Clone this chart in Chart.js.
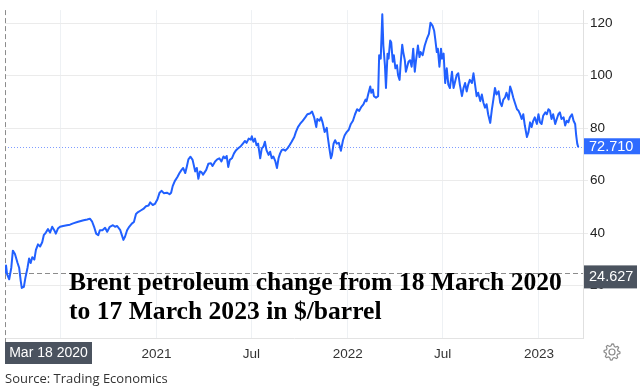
<!DOCTYPE html>
<html>
<head>
<meta charset="utf-8">
<script src="https://cdn.jsdelivr.net/npm/chart.js@4.4.1/dist/chart.umd.min.js"></script>
<style>
  html, body { margin: 0; padding: 0; background: #fff; }
  #wrap { position: relative; width: 640px; height: 390px; overflow: hidden; }
  #title {
    position: absolute; left: 69px; top: 268px;
    font: bold 25.6px "Liberation Serif", "Times New Roman", serif;
    line-height: 28.5px; color: #000; white-space: nowrap;
  }
  #source {
    position: absolute; left: 5px; top: 369px;
    font: 13px "Open Sans", sans-serif; color: #333;
  }
</style>
</head>
<body>
<div id="wrap">
  <canvas id="myChart" width="640" height="390"></canvas>
  <div id="title">Brent petroleum change from 18 March 2020<br>to 17 March 2023 in $/barrel</div>
  <div id="source">Source: Trading Economics</div>
</div>
<script>
// days counted from 18 March 2020
const days = [
    0, 2, 4, 8, 12, 15, 19, 24, 27, 30, 32, 36, 39, 43, 46, 49, 52, 56, 59, 63, 67, 71, 74, 78, 82, 86, 90, 94, 97, 101, 105,
    111, 118, 124, 130, 138, 143, 150, 157, 162, 166, 170, 174, 178, 181,
    186, 191, 195, 200, 206, 210, 214, 220, 223, 226, 229, 233, 237, 242, 246, 250, 254, 259, 264, 269, 274, 277,
    282, 286, 291, 295, 299, 303, 309, 314, 317, 320, 324, 329, 333, 337, 340, 344, 347, 350, 354, 358, 363, 366, 369, 372,
    375, 378, 384, 388, 393, 396, 401, 405, 409, 413, 417, 420, 423, 426, 429, 433, 437, 441, 445, 450, 454, 458, 461, 465, 469, 471,
    474, 477, 480, 483, 487, 490, 493, 496, 499, 503, 506, 509, 512, 516, 519, 522, 525, 528, 531, 535, 539, 543, 547, 552, 555, 559, 563,
    568, 573, 577, 582, 586, 590, 594, 596, 600, 603, 606, 610, 614, 616, 619, 622, 624, 627, 630, 633, 637, 641, 645, 648, 652, 656, 660, 664, 668, 672,
    676, 680, 684, 688, 690, 693, 697, 699, 702, 704, 708, 712, 714, 717, 720, 722, 725, 727, 730, 732, 735, 737, 740, 742, 745, 748, 750, 753, 755, 758, 760, 763, 765,
    770, 773, 776, 779, 782, 784, 788, 791, 793, 797, 801, 805, 809, 812, 816, 819, 821, 824, 826, 829, 832, 834, 837, 840, 843, 846, 849, 853, 856, 859, 862, 865,
    868, 872, 875, 878, 881, 884, 887, 891, 894, 897, 900, 903, 907, 910, 913, 916, 919, 922, 926, 929, 932, 935, 938, 942, 945, 948, 951, 954, 957, 961,
    964, 967, 970, 973, 977, 980, 983, 986, 989, 992, 996, 999, 1002, 1005, 1008, 1011, 1015, 1018, 1021, 1024, 1027, 1031, 1034, 1037, 1040, 1043, 1046, 1050, 1053, 1056, 1059,
    1062, 1066, 1069, 1072, 1075, 1078, 1082, 1085, 1088, 1090, 1092, 1094
];

const prices = [
    24.627, 27.6, 24.3, 22.4, 26.8, 33.3, 32.0, 28.6, 26.8, 21.8, 19.1, 19.5, 23.0, 26.8, 30.3, 28.6, 30.8, 29.9, 33.6, 35.7, 34.9, 36.5, 39.2, 40.2, 41.5, 40.2, 42.4, 41.1, 39.8, 41.7, 42.4,
    42.7, 43.0, 43.2, 43.7, 44.2, 44.5, 44.9, 45.2, 45.5, 44.5, 42.4, 39.8, 39.2, 41.1,
    41.1, 42.0, 40.5, 42.4, 43.0, 42.4, 42.7, 41.1, 39.2, 37.4, 38.6, 41.1, 42.4, 43.6, 44.2, 47.3, 48.0, 48.6, 49.2, 50.2, 50.5, 51.7,
    50.7, 51.1, 52.9, 55.4, 56.1, 55.2, 55.4, 54.8, 55.4, 57.9, 59.8, 61.4, 62.9, 64.1, 64.8, 62.9, 65.4, 68.1, 69.1, 67.9, 63.5, 64.8, 60.7, 63.5,
    63.2, 62.3, 64.1, 66.4, 66.6, 65.6, 67.3, 68.1, 68.5, 67.3, 69.2, 68.5, 69.4, 65.2, 67.9, 68.5, 70.4, 71.6, 72.3, 73.1, 74.1, 75.1, 74.4, 76.0, 75.6, 76.9,
    74.8, 76.0, 73.5, 74.1, 68.5, 72.3, 72.9, 74.8, 71.6, 69.8, 71.0, 68.5, 69.2, 67.3, 64.8, 68.5, 70.4, 71.6, 71.9, 71.4, 72.3, 73.5, 74.8, 76.6, 78.5, 80.4, 81.6,
    82.8, 84.1, 85.3, 85.6, 86.3, 84.1, 80.4, 83.5, 82.8, 84.1, 82.2, 78.5, 80.1, 76.6, 72.3, 68.5, 69.8, 74.1, 75.4, 74.1, 74.4, 71.4, 75.4, 77.2, 78.5, 79.4, 81.6, 82.8, 85.3, 87.2,
    86.6, 88.1, 89.1, 90.9, 90.3, 92.8, 95.9, 93.5, 94.7, 92.2, 91.6, 92.2, 107.8, 106.5, 123.4, 111.5, 104.0, 95.3, 108.4, 106.5, 113.4, 112.7, 105.3, 107.8, 102.8, 104.0, 100.3, 98.4, 104.7, 111.8, 109.0, 105.9, 101.5,
    105.3, 105.9, 103.4, 110.3, 101.5, 105.3, 111.5, 107.1, 109.0, 107.8, 111.5, 114.0, 115.9, 120.2, 119.0, 117.1, 114.0, 109.0, 110.3, 103.4, 110.3, 106.5, 108.4, 97.2, 102.8, 96.6, 95.3, 101.5, 95.3, 97.8, 100.3, 100.9,
    96.6, 92.2, 95.3, 97.2, 94.0, 96.6, 98.4, 97.2, 100.9, 96.6, 92.2, 93.5, 90.3, 92.8, 89.7, 87.8, 89.1, 85.3, 82.0, 87.0, 91.0, 95.3, 92.8, 94.0, 89.7, 88.4, 90.9, 91.6, 93.5, 90.9,
    95.9, 94.0, 91.6, 89.7, 87.2, 86.6, 85.3, 83.5, 85.3, 81.0, 76.6, 78.5, 82.2, 80.4, 82.8, 84.1, 81.6, 85.3, 82.2, 81.6, 84.7, 86.0, 85.3, 87.2, 86.6, 83.5, 85.3, 81.6, 83.5, 85.3, 86.0,
    83.5, 84.1, 81.0, 82.8, 82.2, 84.1, 85.3, 82.8, 81.6, 77.2, 74.1, 72.71
];

// x ticks: Jul 2020, 2021, Jul, 2022, Jul, 2023 (Jul 2020 sits under the date marker)
const xTickDays = [105, 289, 470, 654, 835, 1019];
const xTickLabels = ['', '2021', 'Jul', '2022', 'Jul', '2023'];
const yTickValues = [20, 40, 60, 80, 100, 120];
const startLabel = 'Mar 18 2020';

const points = days.map((d, i) => ({ x: d, y: prices[i] }));
const firstValue = prices[0];
const lastValue = prices[prices.length - 1];

const markers = {
    id: 'markers',
    beforeDatasetsDraw(chart) {
        const { ctx, chartArea: a, scales: { x, y } } = chart;
        ctx.save();
        // last value dotted line
        ctx.strokeStyle = '#7f9dff';
        ctx.lineWidth = 1;
        ctx.setLineDash([1, 2]);
        let yy = Math.round(y.getPixelForValue(lastValue)) + 0.5;
        ctx.beginPath(); ctx.moveTo(a.left, yy); ctx.lineTo(a.right, yy); ctx.stroke();
        // crosshair on first point
        ctx.strokeStyle = '#8c8c8c';
        ctx.setLineDash([5, 3]);
        yy = Math.round(y.getPixelForValue(firstValue)) + 0.5;
        ctx.beginPath(); ctx.moveTo(a.left, yy); ctx.lineTo(a.right, yy); ctx.stroke();
        const xx = Math.round(x.getPixelForValue(0)) + 0.5;
        ctx.beginPath(); ctx.moveTo(xx, a.top); ctx.lineTo(xx, a.bottom + 4); ctx.stroke();
        ctx.restore();
    },
    afterDraw(chart) {
        const { ctx, chartArea: a, scales: { x, y } } = chart;
        ctx.save();
        ctx.textBaseline = 'middle';

        // date marker
        const x0 = x.getPixelForValue(0);
        ctx.font = '14px "Liberation Sans", Arial, sans-serif';
        ctx.fillStyle = '#4b535f';
        ctx.fillRect(x0, a.bottom + 4, 87, 22);
        ctx.fillStyle = '#fff';
        ctx.textAlign = 'center';
        ctx.fillText(startLabel, x0 + 43.5, a.bottom + 15.5);

        // last value box
        ctx.font = '14.5px "Liberation Sans", Arial, sans-serif';
        ctx.textAlign = 'left';
        let yy = y.getPixelForValue(lastValue);
        ctx.fillStyle = '#2f6bff';
        ctx.fillRect(a.right + 1, yy - 9, 56, 16);
        ctx.fillStyle = '#fff';
        ctx.fillText(lastValue.toFixed(3), a.right + 6, yy - 0.5);

        // first value box
        yy = y.getPixelForValue(firstValue);
        ctx.fillStyle = '#4b535f';
        ctx.fillRect(a.right + 1, yy - 8, 53, 23);
        ctx.fillStyle = '#fff';
        ctx.fillText(firstValue.toFixed(3), a.right + 6, yy + 3.5);

        // settings gear
        const gx = 612, gy = 352;
        ctx.strokeStyle = '#8a8a8a';
        ctx.lineWidth = 1.2;
        ctx.beginPath();
        for (let i = 0; i < 32; i++) {
            const ang = i / 32 * Math.PI * 2;
            const r = (i % 4 < 2) ? 8 : 6;
            const px = gx + r * Math.cos(ang), py = gy + r * Math.sin(ang);
            if (i === 0) ctx.moveTo(px, py); else ctx.lineTo(px, py);
        }
        ctx.closePath();
        ctx.stroke();
        ctx.beginPath(); ctx.arc(gx, gy, 3, 0, Math.PI * 2); ctx.stroke();
        ctx.restore();
    }
};

document.addEventListener('DOMContentLoaded', () => {
    new Chart('myChart', {
        type: 'line',
        data: {
            datasets: [{
                data: points,
                borderColor: '#2160ff',
                borderWidth: 2,
                pointRadius: 0,
                tension: 0,
                fill: false,
                borderJoinStyle: 'round'
            }]
        },
        options: {
            responsive: false,
            animation: false,
            layout: { padding: { left: 5, top: 5, right: 0, bottom: 25 } },
            plugins: {
                legend: { display: false },
                tooltip: { enabled: false }
            },
            scales: {
                x: {
                    type: 'linear',
                    position: 'bottom',
                    min: 0,
                    max: 1103,
                    afterBuildTicks: (axis) => { axis.ticks = xTickDays.map(v => ({ value: v })); },
                    afterFit: (axis) => { axis.height = 27; },
                    grid: { color: '#eef1f4', drawTicks: false },
                    border: { color: '#e3e3e3' },
                    ticks: {
                        padding: 8,
                        maxRotation: 0,
                        autoSkip: false,
                        color: '#333',
                        font: { family: '"Liberation Sans", Arial, sans-serif', size: 13.5 },
                        callback: (v) => xTickLabels[xTickDays.indexOf(v)]
                    }
                },
                y: {
                    position: 'right',
                    min: 0,
                    max: 125,
                    afterBuildTicks: (axis) => { axis.ticks = yTickValues.map(v => ({ value: v })); },
                    afterFit: (axis) => { axis.width = 57; },
                    grid: { color: '#ebebeb', tickLength: 5 },
                    border: { color: '#e0e0e0' },
                    ticks: {
                        padding: 2,
                        color: '#222',
                        font: { family: '"Liberation Sans", Arial, sans-serif', size: 13.5 }
                    }
                }
            }
        },
        plugins: [markers]
    });
});
</script>
</body>
</html>
